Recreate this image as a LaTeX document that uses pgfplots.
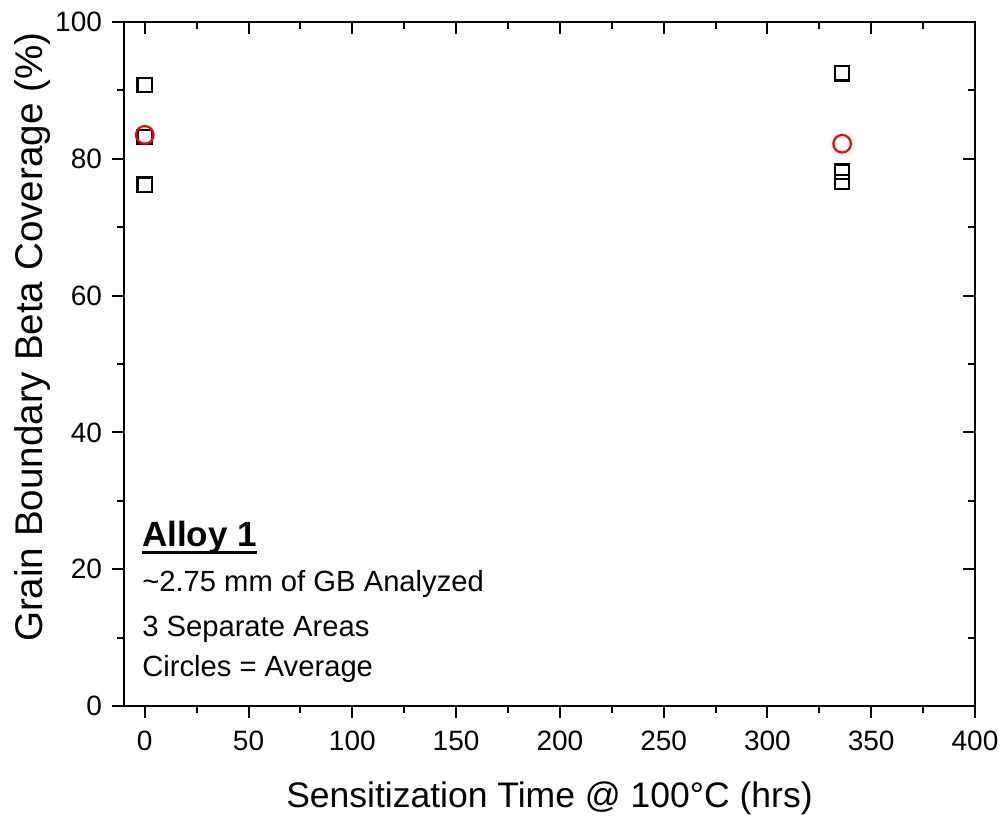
\documentclass[border=0pt]{standalone}
\usepackage{pgfplots}
\pgfplotsset{compat=1.18}
\usepackage{fontspec}
\setmainfont{Liberation Sans}
\begin{document}
\begin{tikzpicture}
\pgfplotsset{
  common/.style={
    scale only axis, width=425.5pt, height=342pt,
    at={(0,0)}, anchor=south west,
    xmin=-10, xmax=400, ymin=0, ymax=100,
    xtick={0,50,...,400}, ytick={0,20,...,100},
    minor x tick num=1, minor y tick num=1,
    axis line style={line width=1pt},
    major tick length=6pt, minor tick length=3.5pt,
    every tick/.style={black, line width=1pt},
    /pgf/number format/assume math mode=true,
    ticklabel style={font=\fontsize{14}{16}\selectfont},
  }
}
\begin{axis}[common,
  xtick pos=left, ytick pos=left, tick align=outside,
  xticklabel style={yshift=-3pt},
  yticklabel style={xshift=-1.5pt},
  xlabel={Sensitization Time @ 100°C (hrs)},
  ylabel={Grain Boundary Beta Coverage (\%)},
  xlabel style={font=\fontsize{17.75}{20}\selectfont, at={(axis description cs:0.5,0)}, anchor=base, yshift=-50.5pt},
  ylabel style={font=\fontsize{19.3}{22}\selectfont, at={(axis description cs:-0.0952,0.539)}, anchor=base},
]
\addplot[only marks, mark=square, mark size=3.6pt, mark options={line width=1.1pt, black}]
  coordinates {(0,90.8) (0,83.2) (0,76.2) (336,92.5) (336,78.1) (336,76.6)};
\addplot[only marks, mark=o, mark size=4.4pt, mark options={line width=1.1pt, red}]
  coordinates {(0,83.5) (336,82.2)};
\node[anchor=base west, inner sep=0pt, font=\bfseries\fontsize{17.5}{20}\selectfont] (alloy) at (rel axis cs:0.021,0.2325) {Alloy 1};
\draw[line width=1.1pt] ([yshift=-2.8pt]alloy.base west) -- ([yshift=-2.8pt]alloy.base east);
\node[anchor=base west, inner sep=0pt, font=\fontsize{14.6}{17}\selectfont] at (rel axis cs:0.021,0.1667) {\textasciitilde 2.75 mm of GB Analyzed};
\node[anchor=base west, inner sep=0pt, font=\fontsize{14.6}{17}\selectfont] at (rel axis cs:0.021,0.1009) {3 Separate Areas};
\node[anchor=base west, inner sep=0pt, font=\fontsize{14.6}{17}\selectfont] at (rel axis cs:0.021,0.0424) {Circles = Average};
\end{axis}
\begin{axis}[common,
  xtick pos=right, ytick pos=right, tick align=inside,
  xticklabels={}, yticklabels={},
]
\end{axis}
\pgfresetboundingbox
\path (-62pt,-56.5pt) rectangle (439pt,353pt);
\end{tikzpicture}
\end{document}
